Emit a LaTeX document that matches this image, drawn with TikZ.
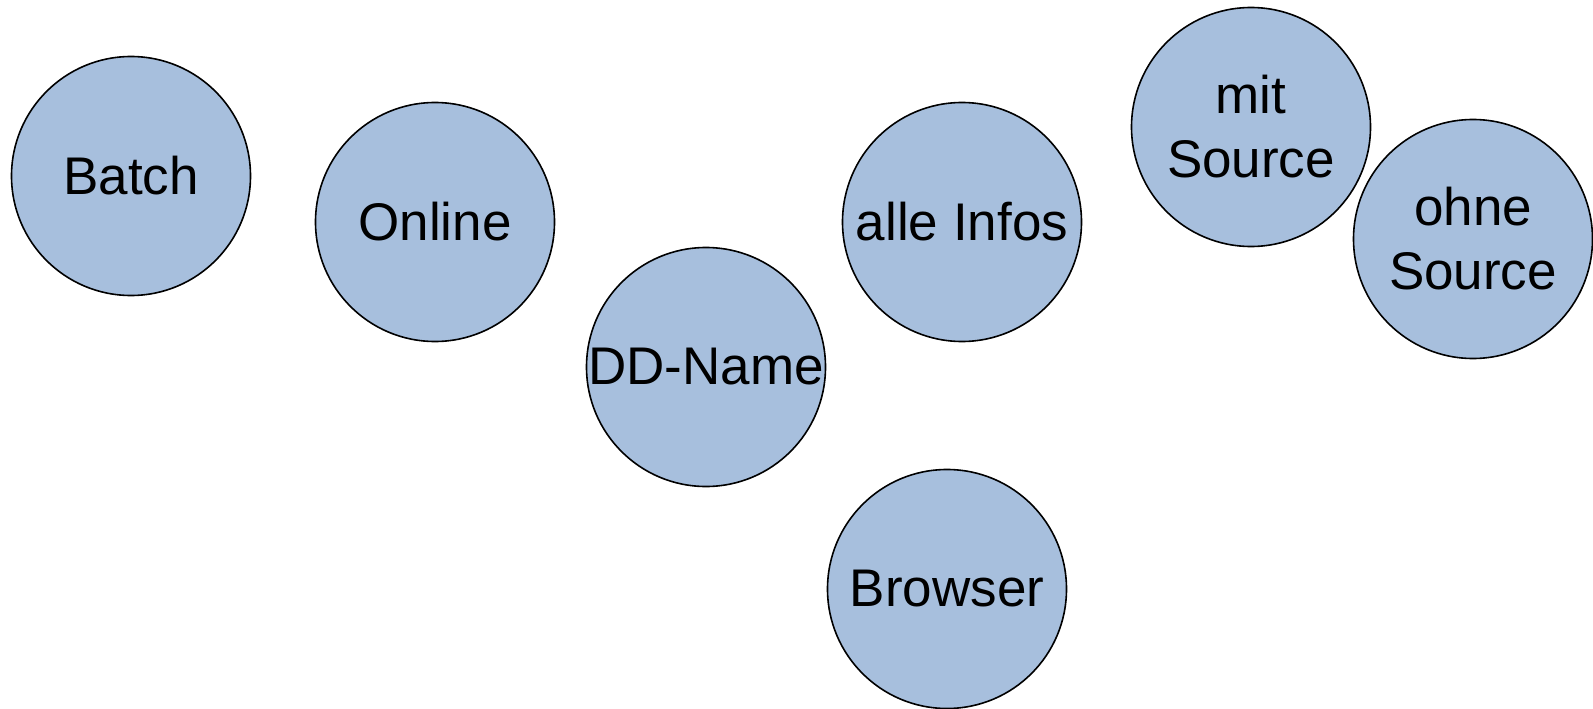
\documentclass[tikz,border=0pt]{standalone}
\usepackage{fontspec}
\setmainfont{Liberation Sans}
\definecolor{bubble}{HTML}{A7BFDD}
\begin{document}
\begin{tikzpicture}[x=1pt,y=-1pt,
  bub/.style={circle,draw=black,line width=1.6pt,fill=bubble,minimum size=239pt,inner sep=0pt,
    align=center,font=\fontsize{53}{64}\selectfont}]
\useasboundingbox (0,0) rectangle (1593,709);
\node[bub] (batch) at (131,176) {Batch};
\node[bub] (online) at (435,222) {Online};
\node[bub] (dd) at (706,367) {DD-Name};
\node[bub] (alle) at (962,222) {alle Infos};
\node[bub] (mit) at (1251,127) {mit\\Source};
\node[bub] (ohne) at (1473,239) {ohne\\Source};
\node[bub] (browser) at (947,589) {Browser};
\end{tikzpicture}
\end{document}
